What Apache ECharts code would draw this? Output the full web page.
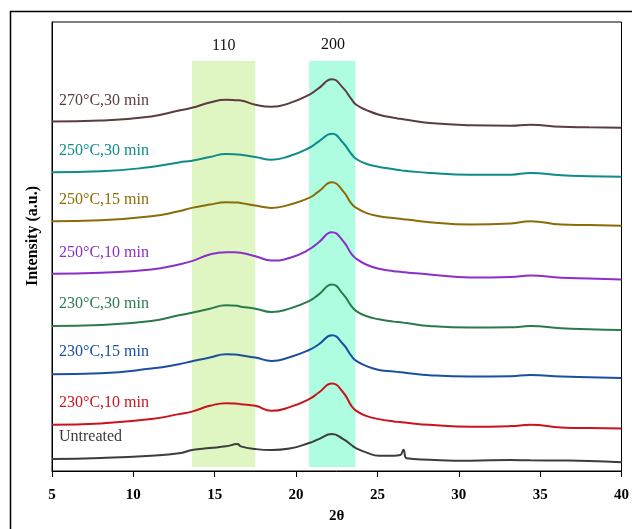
<!DOCTYPE html>
<html>
<head>
<meta charset="utf-8">
<script src="https://cdn.jsdelivr.net/npm/echarts@6/dist/echarts.min.js"></script>
<style>
  html, body { margin: 0; padding: 0; background: #fff; }
  #chart { width: 632px; height: 529px; }
</style>
</head>
<body>
<div id="chart"></div>
<script>
// 2θ positions shared by every pattern
const twoTheta = [5, 8, 11.1, 12.8, 13.6, 14.7, 15.7, 16.4, 16.6, 17.5, 18.5, 19.6, 20.8, 21.4, 22.2, 22.9, 23.4, 23.7, 24.3, 25.1, 26.0, 26.4, 26.6, 26.8, 28.2, 30.7, 33.2, 34.4, 36.3, 38, 40];

// intensities (a.u., stacked with offsets as in the figure)
const untreated = [12, 13, 15.3, 17.7, 21, 23, 24.7, 27, 24.7, 22, 21, 22.5, 28, 32, 37, 32, 26, 22.7, 18.7, 15.3, 15.3, 16, 21.3, 12.7, 11.3, 10.3, 11, 10.7, 10.5, 10, 8.7];
const t230m10 = [46.3, 47.7, 52, 57, 59.5, 65.3, 68, 67.5, 67, 65.3, 60.3, 64, 72, 78.7, 87.7, 78.7, 65.3, 60.3, 55.3, 52, 49.7, 49, 48.7, 48.3, 46.3, 44.3, 45, 46.3, 43.7, 43, 42.7];
const t230m15 = [97, 98, 102.7, 107, 110, 113.7, 117, 116.5, 116, 113.7, 110.3, 114, 121.3, 127, 136, 127, 115.3, 110.3, 105.3, 101.3, 99.7, 99, 98.7, 98.3, 96, 94.7, 95, 96.3, 94.7, 94, 93.3];
const t230m30 = [145.3, 146.3, 150.3, 156, 158.5, 162.7, 166, 165.5, 164.7, 162.7, 159.3, 162.7, 170.3, 177, 187, 177, 165.3, 160.3, 155.3, 152, 149.7, 149, 148.7, 148.3, 145.3, 143.7, 144, 145.3, 143, 142, 141.3];
const t250m10 = [197.7, 198.7, 202, 207, 210.3, 217, 219.3, 219, 218.7, 215.3, 211, 213.5, 222, 229.3, 239.3, 230.3, 217.7, 212.7, 207, 202.7, 200.3, 199.7, 199.3, 199, 197, 194, 194.5, 196, 193.7, 193, 192];
const t250m15 = [250.3, 251.3, 255.3, 260.3, 263.7, 267, 269.3, 269, 268.7, 266, 263.7, 267, 273.7, 280.3, 289.3, 280.3, 268, 263.7, 258.7, 255.3, 253.5, 252.7, 252.3, 252, 249.3, 247, 248, 250.3, 247, 246.5, 245.7];
const t250m30 = [299.3, 300.3, 304.7, 309.3, 311, 314.7, 317.7, 317.3, 317, 314.7, 312, 315.7, 323.7, 330.3, 338, 328.7, 317.7, 312.7, 308, 304.7, 302.5, 301.5, 301, 300.7, 298.7, 297, 297, 298.7, 296.3, 295.5, 295];
const t270m30 = [350.3, 351.3, 355.3, 361.3, 364, 369.3, 372, 371.5, 371.3, 367, 365, 368.7, 377, 383.7, 392.7, 383.7, 372.7, 367, 362, 357, 354, 353, 352.5, 352, 348.7, 346.5, 346, 347, 345, 344.5, 344];

const seriesNames = ["Untreated", "230°C,10 min", "230°C,15 min", "230°C,30 min", "250°C,10 min", "250°C,15 min", "250°C,30 min", "270°C,30 min"];
const seriesValues = [untreated, t230m10, t230m15, t230m30, t250m10, t250m15, t250m30, t270m30];
const seriesColors = ["#3c3c3c", "#c8141e", "#1c4fa0", "#2a7a4c", "#8a30c8", "#8c6c08", "#0e8b8b", "#5c3c3e"];
// label y positions (px) above each curve
const labelTops = [429, 395, 344, 296, 245, 192, 143, 93];

// crystal plane bands
const bands = [
  { name: "110", from: 13.6, to: 17.5, color: "#dff6c3" },
  { name: "200", from: 20.8, to: 23.65, color: "#aefde0" },
];

const serif = "'Liberation Serif', 'Times New Roman', serif";
const chart = echarts.init(document.getElementById("chart"));

const series = seriesNames.map((name, i) => ({
  name: name,
  type: "line",
  data: twoTheta.map((x, j) => [x, seriesValues[i][j]]),
  smooth: 0.5,
  showSymbol: false,
  lineStyle: { color: seriesColors[i], width: 2 },
  itemStyle: { color: seriesColors[i] },
  z: 3,
}));

series.push({
  type: "line",
  data: [],
  silent: true,
  z: 1,
  markArea: {
    silent: true,
    label: { show: false },
    data: bands.map((b) => [
      { xAxis: b.from, yAxis: 4, itemStyle: { color: b.color } },
      { xAxis: b.to, yAxis: 411 },
    ]),
  },
});

const graphics = [
  {
    type: "rect",
    shape: { x: 10.5, y: 11.5, width: 700, height: 600 },
    style: { fill: null, stroke: "#000", lineWidth: 1.5 },
    silent: true,
  },
  {
    type: "text",
    x: 33,
    y: 236,
    rotation: Math.PI / 2,
    style: {
      text: "Intensity (a.u.)",
      fill: "#000",
      font: "bold 16px " + serif,
      align: "center",
      verticalAlign: "middle",
    },
  },
];
seriesNames.forEach((name, i) => {
  graphics.push({
    type: "text",
    left: 59,
    top: labelTops[i],
    style: { text: name, fill: seriesColors[i], font: "16px " + serif },
  });
});
graphics.push({ type: "text", left: 212, top: 38, style: { text: bands[0].name, fill: "#111", font: "16px " + serif } });
graphics.push({ type: "text", left: 321, top: 37, style: { text: bands[1].name, fill: "#111", font: "16px " + serif } });

chart.setOption({
  animation: false,
  grid: {
    left: 52,
    right: 9,
    top: 22,
    bottom: 57,
    show: true,
    borderColor: "#000",
    borderWidth: 1,
  },
  xAxis: {
    type: "value",
    min: 5,
    max: 40,
    interval: 5,
    name: "2θ",
    nameLocation: "middle",
    nameGap: 38,
    nameTextStyle: { fontFamily: serif, fontWeight: "bold", fontSize: 15, color: "#000" },
    axisLine: { show: true, lineStyle: { color: "#000", width: 1 } },
    axisTick: { show: true, inside: false, length: 6, lineStyle: { color: "#000" } },
    axisLabel: { fontFamily: serif, fontWeight: "bold", fontSize: 15, color: "#000", margin: 17 },
    splitLine: { show: false },
  },
  yAxis: {
    type: "value",
    min: 0,
    max: 450,
    axisLine: { show: true, lineStyle: { color: "#000", width: 1 } },
    axisTick: { show: false },
    axisLabel: { show: false },
    splitLine: { show: false },
  },
  graphic: graphics,
  series: series,
});
</script>
</body>
</html>
